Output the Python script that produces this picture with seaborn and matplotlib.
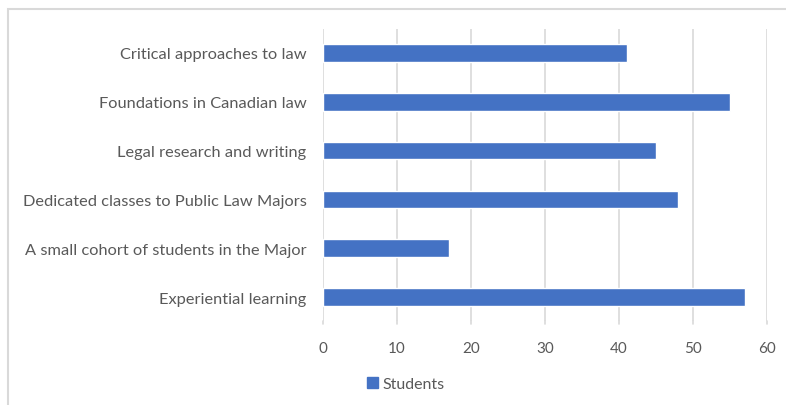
import matplotlib
matplotlib.use("Agg")
import matplotlib.pyplot as plt
from matplotlib.patches import Patch, Rectangle
import seaborn as sns
import pandas as pd

categories = [
    "Critical approaches to law",
    "Foundations in Canadian law",
    "Legal research and writing",
    "Dedicated classes to Public Law Majors",
    "A small cohort of students in the Major",
    "Experiential learning",
]
students = [41, 55, 45, 48, 17, 57]
x_ticks = [0, 10, 20, 30, 40, 50, 60]

sns.set_theme(style="white")
plt.rcParams["font.family"] = ["Lato", "DejaVu Sans"]

df = pd.DataFrame({"Category": categories, "Students": students})

BAR = "#4472C4"
TXT = "#595959"
GRID = "#d9d9d9"

fig = plt.figure(figsize=(7.86, 4.06), dpi=100)
ax = fig.add_axes([0.411, 0.2057, 0.565, 0.7216])

sns.barplot(data=df, x="Students", y="Category", color=BAR, width=0.36,
            saturation=1, ax=ax, zorder=3)

ax.set_xlim(0, 60)
ax.set_ylim(len(categories) - 0.5, -0.5)
ax.set_xticks(x_ticks)
ax.set_xticklabels([str(t) for t in x_ticks])
ax.set_xlabel("")
ax.set_ylabel("")
ax.grid(axis="x", color=GRID, linewidth=1.2, zorder=0)
for s in ax.spines.values():
    s.set_visible(False)
ax.tick_params(axis="x", colors=TXT, labelsize=11, length=0, pad=14)
ax.tick_params(axis="y", colors=TXT, labelsize=11.8, length=0, pad=12)

# small tick marks below the value axis
for t in x_ticks:
    ax.plot([t, t], [len(categories) - 0.5, len(categories) - 0.5 + 0.06],
            color=GRID, linewidth=1.2, clip_on=False, zorder=0)

leg = fig.legend(handles=[Patch(facecolor=BAR, edgecolor=BAR, label="Students")],
                 loc="center left", bbox_to_anchor=(0.467, 0.052),
                 frameon=False, fontsize=11.5, handlelength=0.7, handleheight=0.7,
                 handletextpad=0.25, borderpad=0, borderaxespad=0)
for t in leg.get_texts():
    t.set_color(TXT)

# chart area border
fig.add_artist(Rectangle((8 / 786, -0.1), 1.2, 1 - 10 / 406 + 0.1,
                         transform=fig.transFigure, fill=False,
                         edgecolor=GRID, linewidth=1.5))

fig.savefig("out.png", dpi=100, facecolor="white")
